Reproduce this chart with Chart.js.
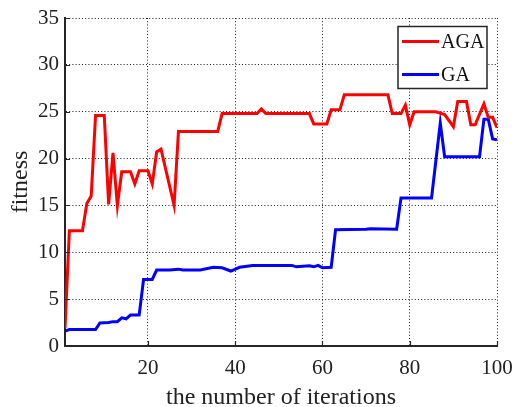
<!DOCTYPE html>
<html>
<head>
<meta charset="utf-8">
<script src="https://cdn.jsdelivr.net/npm/chart.js@4/dist/chart.umd.min.js"></script>
<style>
  html, body { margin: 0; padding: 0; background: #ffffff; }
  #wrap { width: 513px; height: 407px; }
</style>
</head>
<body>
<div id="wrap"><canvas id="c" width="513" height="407"></canvas></div>
<script>
// Fitness per iteration: vertices of each convergence curve
const agaIter = [1, 2, 5, 6, 7, 8, 10, 11, 12, 13, 14, 16, 17, 18, 20, 21, 22, 23, 26, 27, 36, 37, 45, 46, 47, 57, 58, 61, 62, 64, 65, 75, 76, 78, 79, 80, 81, 86, 88, 90, 91, 93, 94, 95, 97, 98, 99, 100];
const agaFit  = [1.9, 12.3, 12.3, 15.2, 16.0, 24.6, 24.6, 15.1, 20.6, 15.0, 18.6, 18.6, 17.3, 18.7, 18.7, 17.3, 20.7, 21.0, 15.0, 22.9, 22.9, 24.8, 24.8, 25.3, 24.8, 24.8, 23.7, 23.7, 25.2, 25.2, 26.8, 26.8, 24.8, 24.8, 25.7, 23.6, 25.0, 25.0, 24.7, 23.4, 26.1, 26.1, 23.6, 23.6, 25.85, 24.4, 24.4, 23.3];

const gaIter = [1, 2, 8, 9, 11, 12, 13, 14, 15, 16, 18, 19, 21, 22, 25, 27, 28, 32, 35, 37, 39, 41, 44, 53, 54, 57, 58, 59, 60, 62, 63, 70, 71, 77, 78, 85, 87, 88, 96, 97, 98, 99, 100];
const gaFit  = [1.6, 1.75, 1.75, 2.45, 2.5, 2.6, 2.6, 3.0, 2.9, 3.3, 3.3, 7.1, 7.1, 8.1, 8.1, 8.2, 8.1, 8.1, 8.4, 8.35, 8.0, 8.4, 8.6, 8.6, 8.45, 8.55, 8.45, 8.6, 8.35, 8.4, 12.4, 12.45, 12.5, 12.45, 15.8, 15.8, 23.8, 20.2, 20.2, 24.2, 24.2, 22.1, 22.0];

const seriesNames = ['AGA', 'GA'];
const xTicks = [20, 40, 60, 80, 100];
const yTicks = [0, 5, 10, 15, 20, 25, 30, 35];
const xTitle = 'the number of iterations';
const yTitle = 'fitness';

const FONT = '"Liberation Serif", "Times New Roman", serif';
const AXIS_COLOR = '#262626';

function pairs(xs, ys) { return xs.map((x, i) => ({ x: x, y: ys[i] })); }

// Short inward tick marks on the left and bottom axes
const inwardTicks = {
  id: 'inwardTicks',
  afterDraw(chart) {
    const { ctx, chartArea: a, scales: { x, y } } = chart;
    ctx.save();
    ctx.strokeStyle = AXIS_COLOR;
    ctx.lineWidth = 1.2;
    ctx.beginPath();
    xTicks.forEach(v => {
      const px = Math.round(x.getPixelForValue(v)) + 0.5;
      ctx.moveTo(px, a.bottom);
      ctx.lineTo(px, a.bottom - 5);
    });
    yTicks.forEach(v => {
      const py = Math.round(y.getPixelForValue(v)) + 0.5;
      ctx.moveTo(a.left, py);
      ctx.lineTo(a.left + 5, py);
    });
    ctx.stroke();
    ctx.restore();
  }
};

// Boxed legend in the upper right corner of the plot
const boxLegend = {
  id: 'boxLegend',
  afterDraw(chart) {
    const { ctx, chartArea: a } = chart;
    const w = 89, h = 62;
    const bx = a.right - 10 - w, by = a.top + 8.5;
    ctx.save();
    ctx.fillStyle = '#ffffff';
    ctx.fillRect(bx, by, w, h);
    ctx.strokeStyle = AXIS_COLOR;
    ctx.lineWidth = 1.5;
    ctx.strokeRect(bx, by, w, h);
    ctx.font = '20px ' + FONT;
    ctx.textBaseline = 'middle';
    ctx.textAlign = 'left';
    chart.data.datasets.forEach((ds, i) => {
      const ly = by + 15 + i * 33;
      ctx.strokeStyle = ds.borderColor;
      ctx.lineWidth = 3;
      ctx.beginPath();
      ctx.moveTo(bx + 4, ly);
      ctx.lineTo(bx + 41, ly);
      ctx.stroke();
      ctx.fillStyle = '#111111';
      ctx.fillText(ds.label, bx + 43, ly + 1);
    });
    ctx.restore();
  }
};

new Chart(document.getElementById('c'), {
  type: 'line',
  data: {
    datasets: [
      {
        label: seriesNames[0],
        data: pairs(agaIter, agaFit),
        borderColor: '#ff0000',
        borderWidth: 3,
        pointRadius: 0,
        tension: 0,
        fill: false
      },
      {
        label: seriesNames[1],
        data: pairs(gaIter, gaFit),
        borderColor: '#0000ff',
        borderWidth: 3,
        pointRadius: 0,
        tension: 0,
        fill: false
      }
    ]
  },
  options: {
    responsive: false,
    animation: false,
    events: [],
    layout: { padding: { top: 18, right: 16, left: 0, bottom: 0 } },
    plugins: {
      legend: { display: false },
      tooltip: { enabled: false }
    },
    scales: {
      x: {
        type: 'linear',
        min: 1,
        max: 100,
        afterBuildTicks(scale) { scale.ticks = xTicks.map(v => ({ value: v })); },
        afterFit(scale) {
          scale.height = 61;
          scale.paddingLeft = 0;
          scale.paddingRight = 0;
        },
        grid: {
          color: '#1a1a1a',
          lineWidth: 1,
          drawTicks: false
        },
        border: { display: true, color: AXIS_COLOR, width: 2, dash: [1, 2.2] },
        ticks: {
          color: '#222222',
          font: { family: FONT, size: 21 },
          padding: 10,
          maxRotation: 0,
          autoSkip: false
        },
        title: {
          display: true,
          text: xTitle,
          color: '#222222',
          font: { family: FONT, size: 24, lineHeight: 0.75 },
          padding: { top: 0, bottom: 0 }
        }
      },
      y: {
        type: 'linear',
        min: 0,
        max: 35,
        afterBuildTicks(scale) { scale.ticks = yTicks.map(v => ({ value: v })); },
        afterFit(scale) {
          scale.width = 65;
          scale.paddingTop = 0;
          scale.paddingBottom = 0;
        },
        grid: {
          color: '#1a1a1a',
          lineWidth: 1,
          drawTicks: false
        },
        border: { display: true, color: AXIS_COLOR, width: 2, dash: [1, 2.2] },
        ticks: {
          color: '#222222',
          font: { family: FONT, size: 21 },
          padding: 6
        },
        title: {
          display: true,
          text: yTitle,
          color: '#222222',
          font: { family: FONT, size: 24 },
          padding: { top: 6, bottom: 4 }
        }
      }
    }
  },
  plugins: [inwardTicks, boxLegend]
});
</script>
</body>
</html>
